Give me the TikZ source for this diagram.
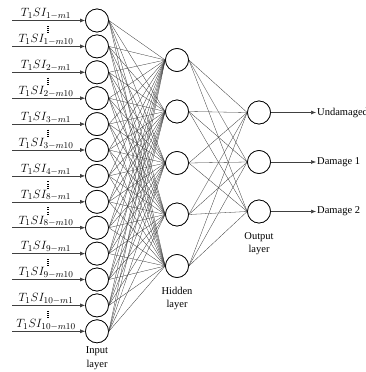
\documentclass[tikz,border=0pt]{standalone}
\usepackage{fontspec}
\setmainfont{Liberation Serif}
\usetikzlibrary{arrows.meta}
\begin{document}
\begin{tikzpicture}[x=1pt,y=-1pt,
  neuron/.style={circle,draw=black,line width=0.7pt,minimum size=23pt,inner sep=0pt,fill=white},
  conn/.style={black!80,line width=0.3pt},
  inarrow/.style={black!75,line width=0.6pt,-{Latex[length=5pt,width=4pt]}},
  inlabel/.style={anchor=south,inner sep=0.8pt,font=\fontsize{12.5}{14}\selectfont},
  vdotsline/.style={line width=1.1pt,dash pattern=on 1pt off 1.1pt},
  layertext/.style={align=center,font=\fontsize{10.5}{13.5}\selectfont,inner sep=0pt},
  outtext/.style={anchor=west,inner sep=1pt,font=\fontsize{10.5}{13}\selectfont}]
\useasboundingbox (0,0) rectangle (365,372);
% input nodes
\foreach \i/\lab [evaluate=\i as \yy using 20.5+25.9*\i] in
  {0/{1-m1},1/{1-m10},2/{2-m1},3/{2-m10},4/{3-m1},5/{3-m10},6/{4-m1},7/{8-m1},8/{8-m10},9/{9-m1},10/{9-m10},11/{10-m1},12/{10-m10}}{
  \node[neuron] (in\i) at (97,\yy) {};
  \coordinate (s\i) at (12,\yy);
  \draw[inarrow] (s\i) -- (in\i);
  \node[inlabel] (l\i) at (46,\yy) {$T_1SI_{\lab}$};
}
% hidden nodes
\foreach \j/\yy in {0/60,1/111.5,2/163,3/214.5,4/266}{
  \node[neuron] (h\j) at (177,\yy) {};
}
% output nodes
\foreach \k/\yy in {0/112.5,1/162,2/211.5}{
  \node[neuron] (o\k) at (259,\yy) {};
}
% connections
\foreach \i in {0,...,12}{\foreach \j in {0,...,4}{\draw[conn] (in\i.east) -- (h\j.west);}}
\foreach \j in {0,...,4}{\foreach \k in {0,1,2}{\draw[conn] (h\j.east) -- (o\k.west);}}
% redraw nodes on top
\foreach \i [evaluate=\i as \yy using 20.5+25.9*\i] in {0,...,12}{\node[neuron] at (97,\yy) {};}
\foreach \yy in {60,111.5,163,214.5,266}{\node[neuron] at (177,\yy) {};}
\foreach \yy in {112.5,162,211.5}{\node[neuron] at (259,\yy) {};}
% vertical dots
\foreach \i [evaluate=\i as \yy using 20.5+25.9*\i] in {0,2,4,6,7,9,11}{
  \coordinate (d\i a) at (48,\yy+5.5);
  \coordinate (d\i b) at (48,\yy+12.5);
  \draw[vdotsline] (d\i a) -- (d\i b);
}
% outputs
\coordinate (e0) at (316,112.5);
\coordinate (e1) at (316,162);
\coordinate (e2) at (316,211.5);
\draw[inarrow] (o0) -- (e0);
\draw[inarrow] (o1) -- (e1);
\draw[inarrow] (o2) -- (e2);
\node[outtext] (t0) at (e0) {Undamaged};
\node[outtext] (t1) at (e1) {Damage 1};
\node[outtext] (t2) at (e2) {Damage 2};
% layer labels
\node[layertext] (il) at (97,358) {Input\\layer};
\node[layertext] (hl) at (177,298.5) {Hidden\\layer};
\node[layertext] (ol) at (259,243.5) {Output\\layer};
\end{tikzpicture}
\end{document}
